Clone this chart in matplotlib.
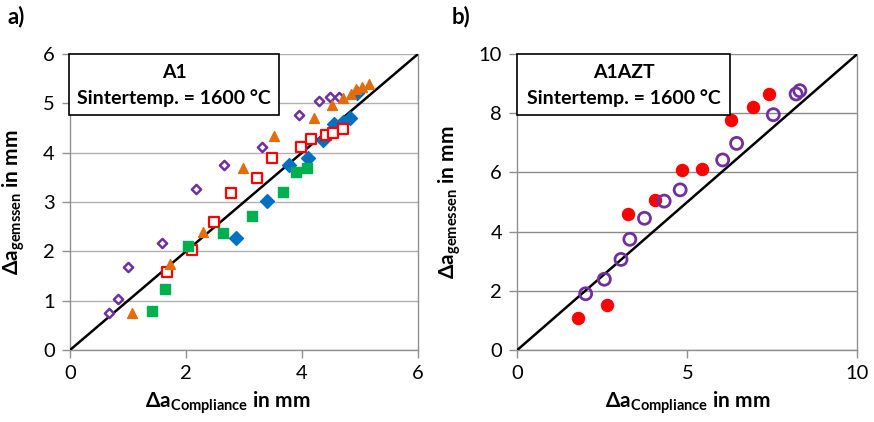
import matplotlib
matplotlib.use("Agg")
import matplotlib.pyplot as plt
import numpy as np

plt.rcParams['font.family'] = ['Lato', 'DejaVu Sans']
plt.rcParams['mathtext.fontset'] = 'custom'
plt.rcParams['mathtext.bf'] = 'Lato:bold'
plt.rcParams['mathtext.rm'] = 'Lato:bold'
plt.rcParams['mathtext.it'] = 'Lato:bold'

# Panel a) A1
purple_x = [0.68, 0.83, 1.00, 1.58, 2.17, 2.66, 3.31, 3.95, 4.30, 4.49, 4.63]
purple_y = [0.76, 1.03, 1.68, 2.16, 3.26, 3.75, 4.12, 4.77, 5.04, 5.13, 5.13]
orange_x = [1.07, 1.72, 2.29, 2.98, 3.51, 4.21, 4.52, 4.70, 4.85, 4.93, 5.03, 5.15]
orange_y = [0.74, 1.74, 2.40, 3.69, 4.33, 4.71, 4.96, 5.11, 5.19, 5.29, 5.34, 5.40]
red_x = [1.67, 2.11, 2.48, 2.78, 3.22, 3.49, 3.99, 4.16, 4.41, 4.54, 4.71]
red_y = [1.59, 2.02, 2.60, 3.18, 3.49, 3.89, 4.12, 4.27, 4.35, 4.40, 4.48]
green_x = [1.41, 1.64, 2.04, 2.63, 3.13, 3.67, 3.90, 4.08]
green_y = [0.80, 1.24, 2.10, 2.38, 2.72, 3.20, 3.60, 3.69]
blue_x = [2.87, 3.40, 3.77, 4.11, 4.36, 4.55, 4.70, 4.83, 4.94]
blue_y = [2.27, 3.03, 3.76, 3.89, 4.25, 4.58, 4.63, 4.71, 5.21]

# Panel b) A1AZT
redb_x = [1.79, 2.65, 3.26, 4.04, 4.85, 5.44, 6.29, 6.92, 7.39]
redb_y = [1.08, 1.52, 4.61, 5.08, 6.08, 6.13, 7.76, 8.22, 8.65]
purpb_x = [2.01, 2.56, 3.05, 3.31, 3.74, 4.32, 4.79, 6.04, 6.45, 7.53, 8.20, 8.31]
purpb_y = [1.90, 2.39, 3.06, 3.74, 4.45, 5.03, 5.41, 6.42, 6.98, 7.95, 8.65, 8.76]

xlabel = r'Δa$_{\mathbf{Compliance}}$ in mm'
ylabel_a = r'Δa$_{\mathbf{gemssen}}$ in mm'
ylabel_b = r'Δa$_{\mathbf{gemessen}}$ in mm'

W, H = 874, 422
fig = plt.figure(figsize=(W/100, H/100), dpi=100)
axa = fig.add_axes([70/W, (H-350)/H, 348/W, 296/H])
axb = fig.add_axes([517.3/W, (H-350)/H, 340/W, 296/H])

C_PURPLE = '#7030A0'
C_ORANGE = '#E46C0A'
C_RED = '#FF0000'
C_GREEN = '#00B050'
C_BLUE = '#0070C0'

def style(ax, xmax, ymax, xt, yt, ylabel, gridc):
    ax.set_xlim(0, xmax)
    ax.set_ylim(0, ymax)
    ax.set_xticks(xt)
    ax.set_yticks(yt)
    ax.grid(axis='y', color=gridc, linewidth=1.0)
    ax.set_axisbelow(True)
    for s in ['left', 'bottom', 'right']:
        ax.spines[s].set_color('#909090')
        ax.spines[s].set_linewidth(1.0)
    ax.spines['top'].set_visible(False)
    ax.tick_params(axis='both', direction='out', length=6, width=1, color='#909090',
                   labelsize=14.5, pad=5)
    ax.set_xlabel(xlabel, fontsize=15, fontweight='bold')
    ax.set_ylabel(ylabel, fontsize=15, fontweight='bold')
    ax.plot([0, xmax], [0, ymax], color='black', linewidth=1.8, zorder=3)

style(axa, 6, 6, [0, 2, 4, 6], [0, 1, 2, 3, 4, 5, 6], ylabel_a, '#B0B0B0')
style(axb, 10, 10, [0, 5, 10], [0, 2, 4, 6, 8, 10], ylabel_b, '#8A8A8A')
axa.xaxis.set_label_coords((227.5-70)/348, -0.135)
axb.xaxis.set_label_coords(0.5, -0.135)
axa.yaxis.set_label_coords(-(70-27)/348, 0.5)
axb.yaxis.set_label_coords(-(517.3-463)/340, 0.5)

axa.scatter(purple_x, purple_y, marker='D', s=22, facecolors='white', edgecolors=C_PURPLE, linewidths=1.8, zorder=4)
axa.scatter(blue_x, blue_y, marker='D', s=50, color=C_BLUE, zorder=4)
axa.scatter(orange_x, orange_y, marker='^', s=50, color=C_ORANGE, zorder=5)
axa.scatter(red_x, red_y, marker='s', s=42, facecolors='white', edgecolors=C_RED, linewidths=1.6, zorder=4)
axa.scatter(green_x, green_y, marker='s', s=42, color=C_GREEN, zorder=4)

axb.scatter(redb_x, redb_y, marker='o', s=75, color=C_RED, zorder=4)
axb.scatter(purpb_x, purpb_y, marker='o', s=75, facecolors='none', edgecolors=C_PURPLE, linewidths=2.0, zorder=4)

def box(x0, x1, title):
    from matplotlib.patches import Rectangle
    y0, y1 = 54, 115
    fx0, fx1 = x0/W, x1/W
    fy0, fy1 = (H-y1)/H, (H-y0)/H
    fig.patches.append(Rectangle((fx0, fy0), fx1-fx0, fy1-fy0, transform=fig.transFigure,
                                 facecolor='white', edgecolor='black', linewidth=1.2, zorder=10))
    cx = (fx0+fx1)/2
    fig.text(cx, (H-72)/H, title, ha='center', va='center', fontsize=14, fontweight='bold', zorder=11)
    fig.text(cx, (H-98)/H, 'Sintertemp. = 1600 °C', ha='center', va='center', fontsize=14, fontweight='bold', zorder=11)

box(69, 279, 'A1')
box(517, 730, 'A1AZT')

fig.text(8/W, (H-17)/H, 'a)', fontsize=16, fontweight='bold', va='center', ha='left')
fig.text(452/W, (H-17)/H, 'b)', fontsize=16, fontweight='bold', va='center', ha='left')

fig.savefig('out.png', dpi=100)
